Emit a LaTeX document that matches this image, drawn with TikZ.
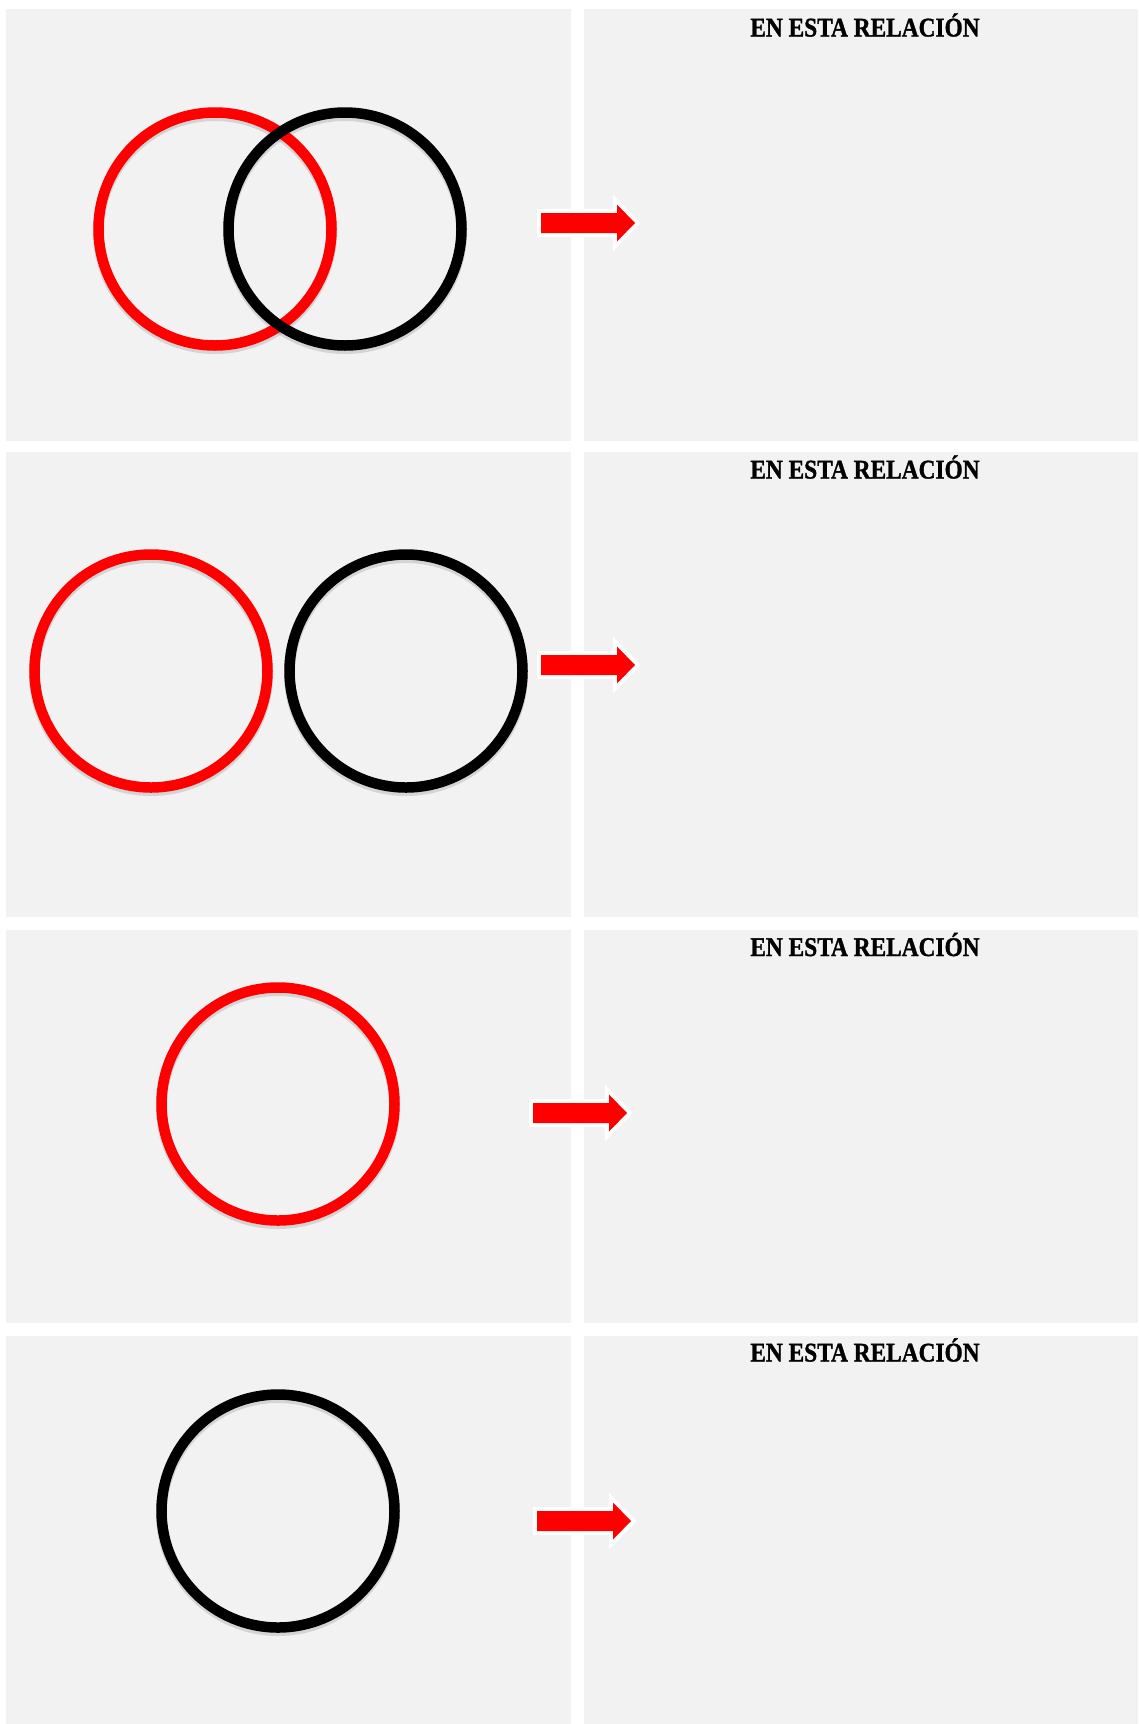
\documentclass[tikz,border=0pt]{standalone}
\usepackage{fontspec}
\newfontfamily\titlefont[BoldFeatures={FakeBold=1.2, FakeStretch=0.865}]{Liberation Serif}
\definecolor{panelgray}{HTML}{F2F2F2}
\definecolor{arrowred}{HTML}{FF0000}
\tikzset{
  x=1pt, y=-1pt,
  panel/.style={fill=panelgray, draw=none},
  ring/.style={line width=10.5pt},
  ringshadow/.style={line width=11pt, draw=black, opacity=0.12},
  heading/.style={font=\titlefont\bfseries\fontsize{27}{30}\selectfont, anchor=base, inner sep=0pt},
  pics/redarrow/.style={code={
    \draw[white, line width=8pt, line join=miter, fill=white]
      (0,-10) -- (76,-10) -- (76,-18.5) -- (94,0) -- (76,18.5) -- (76,10) -- (0,10) -- cycle;
    \fill[arrowred]
      (0,-10) -- (76,-10) -- (76,-18.5) -- (94,0) -- (76,18.5) -- (76,10) -- (0,10) -- cycle;
  }}
}
\begin{document}
\begin{tikzpicture}
\useasboundingbox[fill=white] (0,0) rectangle (1138,1724);
% panels
\fill[panel] (6,9) rectangle (571,441);
\fill[panel] (584,9) rectangle (1138,441);
\fill[panel] (6,452) rectangle (571,917);
\fill[panel] (584,452) rectangle (1138,917);
\fill[panel] (6,930) rectangle (571,1323);
\fill[panel] (584,930) rectangle (1138,1323);
\fill[panel] (6,1336) rectangle (571,1724);
\fill[panel] (584,1336) rectangle (1138,1724);

% panel 1
\draw[ringshadow] (215,232) circle (116.5);
\draw[ringshadow] (345,232) circle (116.5);
\draw[ring, draw=arrowred] (215,229) circle (116.5);
\draw[ring, draw=black] (345,229) circle (116.5);
\pic at (541,223) {redarrow};
\node[heading] (t1) at (865,36.5) {EN ESTA RELACIÓN};

% panel 2
\draw[ringshadow] (151,674) circle (116.5);
\draw[ringshadow] (406,674) circle (116.5);
\draw[ring, draw=arrowred] (151,671) circle (116.5);
\draw[ring, draw=black] (406,671) circle (116.5);
\pic at (541,665) {redarrow};
\node[heading] (t2) at (865,478.5) {EN ESTA RELACIÓN};

% panel 3
\draw[ringshadow] (278,1107) circle (116.5);
\draw[ring, draw=arrowred] (278,1104) circle (116.5);
\pic at (533,1113) {redarrow};
\node[heading] (t3) at (865,956) {EN ESTA RELACIÓN};

% panel 4
\draw[ringshadow] (278,1514) circle (116.5);
\draw[ring, draw=black] (278,1511) circle (116.5);
\pic at (537,1521) {redarrow};
\node[heading] (t4) at (865,1361.5) {EN ESTA RELACIÓN};
\end{tikzpicture}
\end{document}
